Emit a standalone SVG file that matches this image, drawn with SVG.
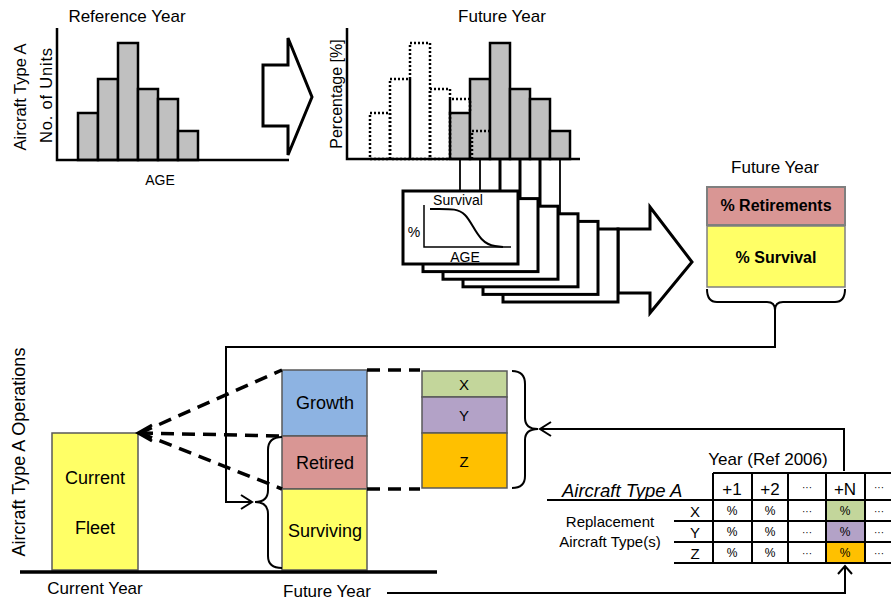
<svg xmlns="http://www.w3.org/2000/svg" width="891" height="601" viewBox="0 0 891 601">
<style>
text{font-family:"Liberation Sans",Arial,sans-serif;fill:#000}
.t17{font-size:17px}
.t15{font-size:15px}
.bar{fill:#c0c0c0;stroke:#000;stroke-width:2.5}
.dot{fill:none;stroke:#000;stroke-width:2.5;stroke-dasharray:2 2}
.ax{stroke:#000;stroke-width:2.5;fill:none}
.card{fill:#fff;stroke:#000;stroke-width:3}
.bigarrow{fill:#fff;stroke:#000;stroke-width:3;stroke-linejoin:miter}
.ln{stroke:#000;stroke-width:2;fill:none}
.dash{stroke:#000;stroke-width:3.5;fill:none;stroke-dasharray:13 8}
.box{stroke:#595959;stroke-width:1.5}
.tb{stroke:#000;stroke-width:2;fill:none}
.c{text-anchor:middle}
</style>

<!-- Reference year histogram -->
<g id="ref-histogram">
  <text class="t17 c" x="127" y="22">Reference Year</text>
  <text class="c" font-size="16.5" transform="translate(26,97) rotate(-90)">Aircraft Type A</text>
  <text class="c" font-size="16.5" transform="translate(52,95) rotate(-90)" letter-spacing="0.8">No. of Units</text>
  <rect class="bar" x="78" y="113" width="20" height="47"/>
  <rect class="bar" x="98" y="79" width="20" height="81"/>
  <rect class="bar" x="118" y="43" width="20" height="117"/>
  <rect class="bar" x="138" y="89" width="20" height="71"/>
  <rect class="bar" x="158" y="99" width="20" height="61"/>
  <rect class="bar" x="178" y="131" width="20" height="29"/>
  <polyline class="ax" points="57,28 57,160 289,160"/>
  <text class="c" font-size="14" x="160" y="185">AGE</text>
</g>

<g id="arrow-top">
  <polygon class="bigarrow" points="263,65 288,65 288,38 312,97 288,155 288,126 263,126"/>
</g>

<!-- Future year histogram -->
<g id="future-histogram">
  <text class="t17 c" x="502" y="22">Future Year</text>
  <text class="c" font-size="16" transform="translate(342,94) rotate(-90)">Percentage [%]</text>
  <rect class="bar" x="450" y="113" width="20" height="46"/>
  <rect class="bar" x="470" y="79" width="20" height="80"/>
  <rect class="bar" x="490" y="43" width="20" height="116"/>
  <rect class="bar" x="510" y="89" width="20" height="70"/>
  <rect class="bar" x="530" y="99" width="20" height="60"/>
  <rect class="bar" x="550" y="131" width="20" height="28"/>
  <rect class="dot" x="370" y="113" width="20" height="46"/>
  <rect class="dot" x="390" y="79" width="20" height="80"/>
  <rect class="dot" x="410" y="43" width="20" height="116"/>
  <rect class="dot" x="430" y="89" width="20" height="70"/>
  <path class="dot" d="M450,113 V99 H470 V113"/>
  <path class="dot" d="M472,159 V131 H490"/>
  <polyline class="ax" points="347,28 347,159 580,159"/>
</g>

<!-- connectors from bars to survival cards -->
<g id="bar-links">
  <line x1="460" y1="159" x2="460" y2="193" stroke="#000" stroke-width="1.8"/>
  <line x1="480" y1="159" x2="480" y2="193" stroke="#000" stroke-width="1.8"/>
  <line x1="500" y1="159" x2="500" y2="193" stroke="#000" stroke-width="3"/>
  <line x1="520" y1="159" x2="520" y2="201" stroke="#000" stroke-width="3"/>
  <line x1="540" y1="159" x2="540" y2="209" stroke="#000" stroke-width="3"/>
  <line x1="560" y1="159" x2="560" y2="216" stroke="#000" stroke-width="1.8"/>
</g>

<g id="arrow-cards">
  <polygon class="bigarrow" points="618,229 650,229 650,207 692,262 650,313 650,293 618,293"/>
</g>

<!-- survival cards -->
<g id="survival-cards">
  <rect class="card" x="503" y="229" width="115" height="73"/>
  <rect class="card" x="483" y="221.4" width="115" height="73"/>
  <rect class="card" x="463" y="213.8" width="115" height="73"/>
  <rect class="card" x="443" y="206.2" width="115" height="73"/>
  <rect class="card" x="423" y="198.6" width="115" height="73"/>
  <rect class="card" x="403" y="191" width="115" height="73"/>
  <text class="c" font-size="14" x="458" y="205">Survival</text>
  <text class="c" font-size="14" x="414" y="237">%</text>
  <polyline points="424,205 424,247 511,247" fill="none" stroke="#000" stroke-width="1.5"/>
  <path d="M430,209 C450,209 458,208 465,215 C474,224 478,244 495,246 L503,247" fill="none" stroke="#000" stroke-width="2"/>
  <text class="c" font-size="14" x="465" y="262">AGE</text>
</g>

<!-- Future year summary -->
<g id="future-summary">
  <text class="t17 c" x="775" y="173">Future Year</text>
  <rect x="707" y="187" width="138" height="38" fill="#d99694" stroke="#7f7f7f" stroke-width="2"/>
  <text class="c" font-size="16" font-weight="bold" x="776" y="211">% Retirements</text>
  <rect x="707" y="226" width="138" height="61" fill="#ffff66" stroke="#7f7f7f" stroke-width="1.5"/>
  <text class="c" font-size="16" font-weight="bold" x="776" y="263">% Survival</text>
  <path class="ln" d="M707,289 Q707,302 717,302 L767,302 Q775,302 775,310 Q775,302 783,302 L835,302 Q845,302 845,289"/>
</g>

<!-- Bottom section -->
<g id="y-label">
  <text class="c" font-size="18" transform="translate(25,452) rotate(-90)">Aircraft Type A Operations</text>
</g>

<g id="current-fleet">
  <rect class="box" x="52" y="433" width="86" height="137" fill="#ffff66"/>
  <text class="c" font-size="18" x="95" y="484">Current</text>
  <text class="c" font-size="18" x="95" y="534">Fleet</text>
</g>

<g id="future-stack">
  <rect class="box" x="282" y="370" width="85" height="66" fill="#8db3e2"/>
  <text class="c" font-size="18" x="325" y="409">Growth</text>
  <rect class="box" x="282" y="436" width="85" height="53" fill="#d99694"/>
  <text class="c" font-size="18" x="325" y="469">Retired</text>
  <rect class="box" x="282" y="489" width="85" height="81" fill="#ffff66"/>
  <text class="c" font-size="18" x="325" y="537">Surviving</text>
</g>

<g id="replacement-stack">
  <rect class="box" x="422" y="371" width="85" height="26" fill="#c3d69b"/>
  <text class="c" font-size="15" x="464" y="390">X</text>
  <rect class="box" x="422" y="397" width="85" height="36" fill="#b3a2c7"/>
  <text class="c" font-size="15" x="464" y="421">Y</text>
  <rect class="box" x="422" y="433" width="85" height="55" fill="#ffc000"/>
  <text class="c" font-size="15" x="464" y="467">Z</text>
</g>

<g id="axis-labels">
  <line x1="20" y1="572" x2="437" y2="572" stroke="#000" stroke-width="3.5"/>
  <text class="t17 c" x="95" y="594">Current Year</text>
  <text class="t17 c" x="327" y="597">Future Year</text>
</g>

<!-- Table -->
<g id="table">
  <text class="t17 c" x="768" y="465">Year (Ref 2006)</text>
  <text font-size="18.5" font-style="italic" x="562" y="497">Aircraft Type A</text>
  <text class="c t15" x="610" y="527">Replacement</text>
  <text class="c t15" x="610" y="547">Aircraft Type(s)</text>
  <rect x="826" y="500" width="39" height="21" fill="#c3d69b"/>
  <rect x="826" y="521" width="39" height="21" fill="#b3a2c7"/>
  <rect x="826" y="542" width="39" height="21" fill="#ffc000"/>
  <line class="tb" x1="713" y1="473" x2="891" y2="473"/>
  <line class="tb" x1="547" y1="500" x2="891" y2="500"/>
  <line class="tb" x1="674" y1="521" x2="891" y2="521"/>
  <line class="tb" x1="674" y1="542" x2="891" y2="542"/>
  <line class="tb" x1="674" y1="563" x2="891" y2="563"/>
  <line class="tb" x1="713" y1="473" x2="713" y2="563"/>
  <line class="tb" x1="752" y1="473" x2="752" y2="563"/>
  <line class="tb" x1="788" y1="473" x2="788" y2="563"/>
  <line class="tb" x1="826" y1="473" x2="826" y2="563"/>
  <line class="tb" x1="865" y1="473" x2="865" y2="563"/>
  <text class="c t15" x="695" y="517">X</text>
  <text class="c t15" x="695" y="538">Y</text>
  <text class="c t15" x="695" y="559">Z</text>
  <g font-size="17" text-anchor="middle">
    <text x="732" y="495">+1</text>
    <text x="770" y="495">+2</text>
    <text x="845" y="495">+N</text>
  </g>
  <g font-size="10" text-anchor="middle">
    <text x="807" y="491">···</text>
    <text x="879" y="491">···</text>
    <text x="807" y="515">···</text>
    <text x="879" y="515">···</text>
    <text x="807" y="536">···</text>
    <text x="879" y="536">···</text>
    <text x="807" y="557">···</text>
    <text x="879" y="557">···</text>
  </g>
  <g font-size="12" text-anchor="middle">
    <text x="732" y="515">%</text><text x="770" y="515">%</text><text x="845" y="515">%</text>
    <text x="732" y="536">%</text><text x="770" y="536">%</text><text x="845" y="536">%</text>
    <text x="732" y="557">%</text><text x="770" y="557">%</text><text x="845" y="557">%</text>
  </g>
</g>

<!-- Connectors -->
<g id="connectors">
  <line class="dash" x1="140" y1="433" x2="282" y2="370"/>
  <line class="dash" x1="140" y1="433" x2="282" y2="436"/>
  <line class="dash" x1="140" y1="433" x2="282" y2="489"/>
  <polyline points="152,425 138,433 152,441" fill="none" stroke="#000" stroke-width="3"/>
  <line class="dash" x1="367" y1="370" x2="420" y2="370"/>
  <line class="dash" x1="367" y1="489" x2="420" y2="489"/>
  <path class="ln" d="M282,437 Q268,437 268,450 L268,490 Q268,502 255,502 Q268,502 268,514 L268,556 Q268,568 282,568"/>
  <polyline class="ln" points="775,310 775,347 226,347 226,502 252,502"/>
  <polyline class="ln" points="241,495 252,502 241,509"/>
  <path class="ln" d="M512,371 Q525,371 525,384 L525,418 Q525,429 538,429 Q525,429 525,440 L525,476 Q525,488 512,488"/>
  <polyline class="ln" points="844,471 844,429 540,429"/>
  <polyline class="ln" points="551,422 540,429 551,436"/>
  <polyline class="ln" points="387,593 845,593 845,566"/>
  <polyline class="ln" points="838,574 845,566 852,574"/>
</g>
</svg>
